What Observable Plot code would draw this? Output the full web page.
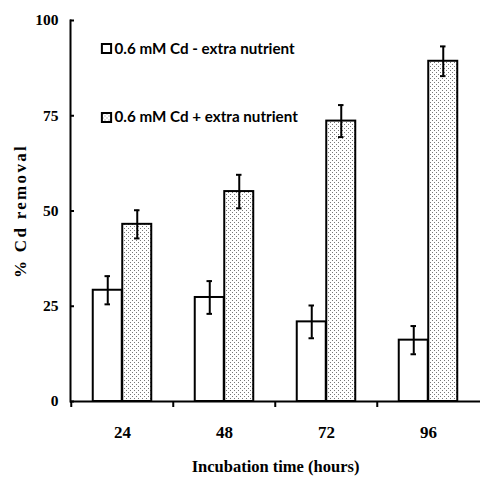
<!DOCTYPE html>
<html>
<head>
<meta charset="utf-8">
<script src="https://cdn.jsdelivr.net/npm/d3@7"></script>
<script src="https://cdn.jsdelivr.net/npm/@observablehq/plot@0.6"></script>
<style>
  html, body { margin: 0; padding: 0; background: #fff; }
  #chart { width: 480px; height: 481px; }
  .ytitle text { letter-spacing: 2.3px; }
</style>
</head>
<body>
<div id="chart"></div>
<script>
const times = ["24", "48", "72", "96"];
const seriesLabels = ["0.6 mM Cd - extra nutrient", "0.6 mM Cd + extra nutrient"];
const minusValues = [29.2, 27.3, 20.9, 16.1];
const minusErrors = [3.7, 4.3, 4.3, 3.7];
const plusValues = [46.5, 55.1, 73.6, 89.3];
const plusErrors = [3.7, 4.4, 4.2, 3.9];
const yTicks = [0, 25, 50, 75, 100];

const minus = times.map((t, i) => ({time: t, value: minusValues[i], err: minusErrors[i]}));
const plus = times.map((t, i) => ({time: t, value: plusValues[i], err: plusErrors[i]}));

const bw = 102.5, half = bw / 2, barW = 29.5, capW = 6;
const legendFont = {fontFamily: "Lato, sans-serif", fontWeight: "bold", fontSize: 15.2, textAnchor: "start", lineAnchor: "middle", frameAnchor: "top-left", dx: 44};
const legendBox = {frameAnchor: "top-left", dx: 36, symbol: "square", r: 5.2, stroke: "black", strokeWidth: 2};

const chart = Plot.plot({
  width: 480,
  height: 481,
  marginLeft: 70,
  marginRight: 0,
  marginTop: 20,
  marginBottom: 80,
  style: {fontFamily: "'Liberation Serif', serif", fontWeight: "bold", fontSize: "15px", background: "white", color: "black"},
  x: {type: "band", domain: times, padding: 0},
  y: {domain: [0, 100]},
  marks: [
    Plot.barY(minus, {x: "time", y: "value", fill: "white", stroke: "black", strokeWidth: 2, insetLeft: half - barW, insetRight: half}),
    Plot.barY(plus, {x: "time", y: "value", fill: "url(#dots)", stroke: "black", strokeWidth: 2, insetLeft: half, insetRight: half - barW}),
    Plot.ruleX(minus, {x: "time", y1: d => d.value - d.err, y2: d => d.value + d.err, dx: -barW / 2, strokeWidth: 2}),
    Plot.ruleX(plus, {x: "time", y1: d => d.value - d.err, y2: d => d.value + d.err, dx: barW / 2, strokeWidth: 2}),
    Plot.tickY(minus, {x: "time", y: d => d.value + d.err, insetLeft: half - barW / 2 - capW / 2, insetRight: half + barW / 2 - capW / 2, strokeWidth: 2}),
    Plot.tickY(minus, {x: "time", y: d => d.value - d.err, insetLeft: half - barW / 2 - capW / 2, insetRight: half + barW / 2 - capW / 2, strokeWidth: 2}),
    Plot.tickY(plus, {x: "time", y: d => d.value + d.err, insetLeft: half + barW / 2 - capW / 2, insetRight: half - barW / 2 - capW / 2, strokeWidth: 2}),
    Plot.tickY(plus, {x: "time", y: d => d.value - d.err, insetLeft: half + barW / 2 - capW / 2, insetRight: half - barW / 2 - capW / 2, strokeWidth: 2}),
    Plot.axisY({ticks: yTicks, tickSize: 0, tickPadding: 12, fontSize: 15.5, label: null}),
    Plot.tickY(yTicks, {y: d => d, insetRight: 410 - 4, strokeWidth: 2}),
    Plot.axisX({tickSize: 6, text: null, label: null, dx: -half, strokeWidth: 2}),
    Plot.axisX({tickSize: 0, tickPadding: 24, fontSize: 17, label: null}),
    Plot.frame({anchor: "left", strokeWidth: 2}),
    Plot.ruleY([0], {strokeWidth: 2}),
    Plot.text(["Incubation time (hours)"], {frameAnchor: "bottom", dy: 70, fontSize: 16.5, fontWeight: "bold"}),
    Plot.text(["% Cd removal"], {frameAnchor: "left", textAnchor: "middle", lineAnchor: "middle", dx: -50, rotate: -90, fontSize: 17, fontWeight: "bold", className: "ytitle"}),
    Plot.dot([seriesLabels[0]], {...legendBox, dy: 28, fill: "white"}),
    Plot.dot([seriesLabels[1]], {...legendBox, dy: 97, fill: "url(#dots)"}),
    Plot.text([seriesLabels[0]], {...legendFont, dy: 29}),
    Plot.text([seriesLabels[1]], {...legendFont, dy: 97})
  ]
});

// dotted pattern
const ns = "http://www.w3.org/2000/svg";
const defs = document.createElementNS(ns, "defs");
defs.innerHTML = `<pattern id="dots" width="4" height="4" patternUnits="userSpaceOnUse">
  <rect width="4" height="4" fill="white"/>
  <rect x="0" y="0" width="1" height="1" fill="#777"/>
  <rect x="2" y="2" width="1" height="1" fill="#777"/>
</pattern>`;
chart.insertBefore(defs, chart.firstChild);

document.getElementById("chart").appendChild(chart);
</script>
</body>
</html>
